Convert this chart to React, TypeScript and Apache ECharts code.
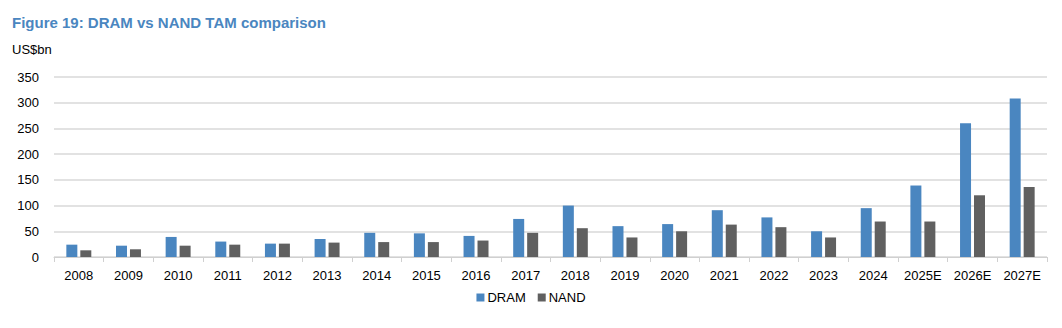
import React, { useEffect, useRef } from "react";
import * as echarts from "echarts";

const categories = ["2008","2009","2010","2011","2012","2013","2014","2015","2016","2017","2018","2019","2020","2021","2022","2023","2024","2025E","2026E","2027E"];
const dram = [24, 22, 39, 30, 26, 35, 47, 46, 41, 74, 100, 60, 64, 91, 77, 50, 95, 139, 260, 308];
const nand = [13, 15, 22, 24, 26, 28, 29, 29, 32, 47, 56, 38, 50, 63, 58, 38, 69, 69, 120, 136];
const yTicks = { min: 0, max: 350, interval: 50 };

export default function App() {
  const ref = useRef<HTMLDivElement>(null);
  useEffect(() => {
    if (!ref.current) return;
    const chart = echarts.init(ref.current, null, { renderer: "svg" });
    const font = "Arial, 'Liberation Sans', sans-serif";
    chart.setOption({
      animation: false,
      backgroundColor: "#ffffff",
      textStyle: { fontFamily: font },
      title: [
        {
          text: "Figure 19: DRAM vs NAND TAM comparison",
          left: 7,
          top: 10,
          textStyle: { fontSize: 15, fontWeight: "bold", color: "#4a86c0", fontFamily: font },
        },
        {
          text: "US$bn",
          left: 7,
          top: 38,
          textStyle: { fontSize: 13, fontWeight: "normal", color: "#000000", fontFamily: font },
        },
      ],
      legend: {
        bottom: 19,
        left: "center",
        itemWidth: 8,
        itemHeight: 8,
        itemGap: 12,
        icon: "rect",
        textStyle: { fontSize: 13, color: "#000", fontFamily: font, padding: [0, 0, 0, -2] },
        data: ["DRAM", "NAND"],
      },
      grid: { left: 54, right: 15, top: 77, bottom: 71 },
      xAxis: {
        type: "category",
        data: categories,
        axisLine: { lineStyle: { color: "#d0d0d0", width: 1 } },
        axisTick: { show: true, length: 5, lineStyle: { color: "#d0d0d0" } },
        axisLabel: { fontSize: 13, color: "#000", margin: 12, fontFamily: font },
      },
      yAxis: {
        type: "value",
        min: yTicks.min,
        max: yTicks.max,
        interval: yTicks.interval,
        axisLine: { show: false },
        axisTick: { show: false },
        axisLabel: { fontSize: 13, color: "#000", margin: 15, fontFamily: font },
        splitLine: { lineStyle: { color: "#d9d9d9", width: 1.5 } },
      },
      series: [
        { name: "DRAM", type: "bar", data: dram, barWidth: 11, barGap: "27%", itemStyle: { color: "#4a86c0" } },
        { name: "NAND", type: "bar", data: nand, barWidth: 11, itemStyle: { color: "#606060" } },
      ],
    });
    return () => chart.dispose();
  }, []);
  return <div ref={ref} style={{ position: "fixed", left: 0, top: 0, width: 1062, height: 328 }} />;
}
